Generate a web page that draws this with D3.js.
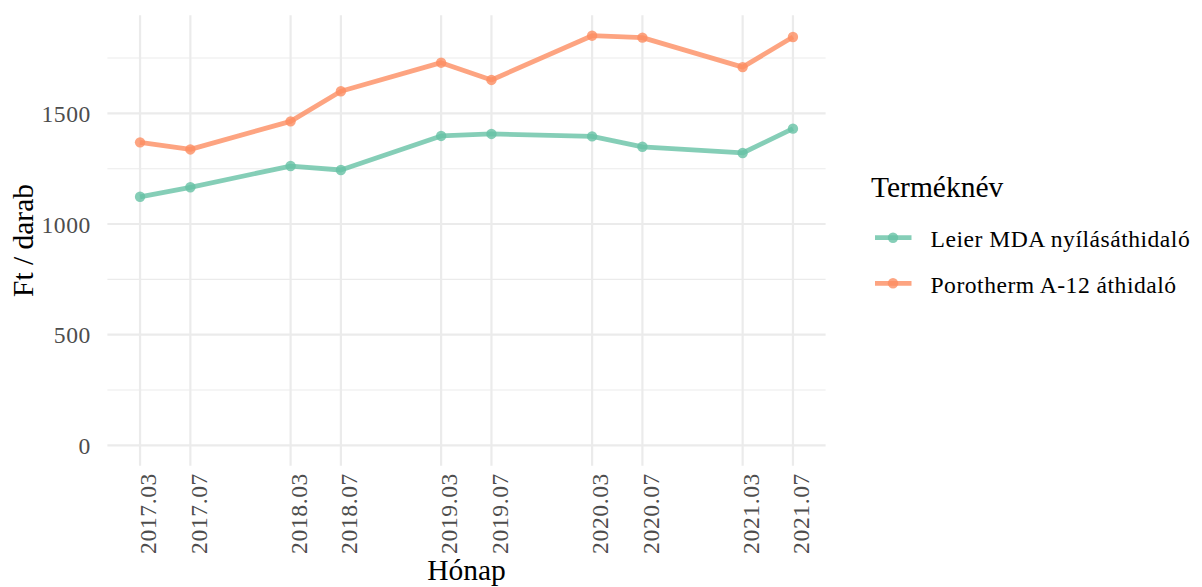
<!DOCTYPE html>
<html>
<head>
<meta charset="utf-8">
<script src="https://cdn.jsdelivr.net/npm/d3@7"></script>
<style>
  body { margin: 0; background: #fff; }
  svg text { font-family: "Liberation Serif", "Times New Roman", serif !important; }
</style>
</head>
<body>
<div id="plotSect"></div>
<script>
// data
let months = ["2017.03", "2017.07", "2018.03", "2018.07", "2019.03", "2019.07", "2020.03", "2020.07", "2021.03", "2021.07"];
let seriesNames = ["Leier MDA nyílásáthidaló", "Porotherm A-12 áthidaló"];
let leierVals = [1123, 1166, 1262, 1244, 1398, 1407, 1396, 1349, 1321, 1431];
let porothermVals = [1369, 1337, 1464, 1600, 1729, 1651, 1851, 1842, 1709, 1845];
let yTicks = [0, 500, 1000, 1500];
let yMinor = [250, 750, 1250, 1750];
let colors = ["#66c2a5", "#fc8d62"];

let SVGwidth = 1202,
    SVGheight = 587,
    panel = {left: 107.4, right: 825.6, top: 15.2, bottom: 465.8};

let serif = "'Liberation Serif', 'Times New Roman', serif";

let parseMonth = d3.timeParse("%Y.%m");
let dates = months.map(parseMonth);

let series = [leierVals, porothermVals].map(function(vals, i) {
    return {
        name: seriesNames[i],
        color: colors[i],
        points: vals.map(function(v, j) { return {date: dates[j], value: v}; })
    };
});

// ggplot-style 5% expansion
let tExt = d3.extent(dates);
let tPad = (tExt[1] - tExt[0]) * 0.05;
let xScale = d3.scaleTime()
    .domain([new Date(+tExt[0] - tPad), new Date(+tExt[1] + tPad)])
    .range([panel.left, panel.right]);

let yMax = d3.max(leierVals.concat(porothermVals));
let yPad = yMax * 0.05;
let yScale = d3.scaleLinear()
    .domain([-yPad, yMax + yPad])
    .range([panel.bottom, panel.top]);

let svg = d3.select("#plotSect").append("svg")
    .attr("width", SVGwidth)
    .attr("height", SVGheight)
    .style("display", "block");

// grid
svg.append("g").selectAll("line")
    .data(yMinor)
    .enter().append("line")
    .attr("x1", panel.left).attr("x2", panel.right)
    .attr("y1", d => yScale(d)).attr("y2", d => yScale(d))
    .attr("stroke", "#ebebeb")
    .attr("stroke-width", 1.1);

svg.append("g").selectAll("line")
    .data(yTicks)
    .enter().append("line")
    .attr("x1", panel.left).attr("x2", panel.right)
    .attr("y1", d => yScale(d)).attr("y2", d => yScale(d))
    .attr("stroke", "#ebebeb")
    .attr("stroke-width", 2.2);

svg.append("g").selectAll("line")
    .data(dates)
    .enter().append("line")
    .attr("x1", d => xScale(d)).attr("x2", d => xScale(d))
    .attr("y1", panel.top).attr("y2", panel.bottom)
    .attr("stroke", "#ebebeb")
    .attr("stroke-width", 2.2);

// axes via d3 axis generators, then restyled
let yAxis = d3.axisLeft(yScale)
    .tickValues(yTicks)
    .tickFormat(d3.format("d"))
    .tickSize(0).tickPadding(0);
let yG = svg.append("g")
    .attr("transform", "translate(" + 91 + ",0)")
    .attr("font-family", serif)
    .call(yAxis);
yG.select(".domain").remove();
yG.selectAll("text")
    .attr("x", 0)
    .attr("dy", "0.34em")
    .style("font-family", serif)
    .style("font-size", "23.6px")
    .style("letter-spacing", "0.6px")
    .attr("fill", "#4d4d4d");

let xAxis = d3.axisBottom(xScale)
    .tickValues(dates)
    .tickFormat(d3.timeFormat("%Y.%m"))
    .tickSize(0);
let xG = svg.append("g")
    .attr("transform", "translate(0," + 473 + ")")
    .attr("font-family", serif)
    .call(xAxis);
xG.select(".domain").remove();
xG.selectAll("text")
    .attr("transform", "rotate(-90)")
    .attr("x", 0)
    .attr("y", 15.7)
    .attr("dy", 0)
    .style("text-anchor", "end")
    .style("font-family", serif)
    .style("font-size", "23.6px")
    .style("letter-spacing", "0.6px")
    .attr("fill", "#4d4d4d");

// axis titles
svg.append("text")
    .attr("x", (panel.left + panel.right) / 2)
    .attr("y", 580)
    .attr("text-anchor", "middle")
    .style("font-family", serif)
    .style("font-size", "29.5px")
    .attr("fill", "#000")
    .text("Hónap");

svg.append("text")
    .attr("transform", "translate(" + 33 + "," + ((panel.top + panel.bottom) / 2) + ") rotate(-90)")
    .attr("text-anchor", "middle")
    .style("font-family", serif)
    .style("font-size", "29.5px")
    .attr("fill", "#000")
    .text("Ft / darab");

// lines and points
let line = d3.line()
    .x(d => xScale(d.date))
    .y(d => yScale(d.value));

let sG = svg.selectAll(".series")
    .data(series)
    .enter().append("g")
    .attr("class", "series");

sG.append("path")
    .attr("d", d => line(d.points))
    .attr("fill", "none")
    .attr("stroke", d => d.color)
    .attr("stroke-width", 4.8)
    .attr("stroke-opacity", 0.8)
    .attr("stroke-linejoin", "round");

sG.selectAll("circle")
    .data(d => d.points.map(p => ({date: p.date, value: p.value, color: d.color})))
    .enter().append("circle")
    .attr("cx", d => xScale(d.date))
    .attr("cy", d => yScale(d.value))
    .attr("r", 5.2)
    .attr("fill", d => d.color)
    .attr("fill-opacity", 0.8);

// legend
svg.append("text")
    .attr("x", 871)
    .attr("y", 196.5)
    .style("font-family", serif)
    .style("font-size", "29.5px")
    .attr("fill", "#000")
    .text("Terméknév");

let legend = svg.selectAll(".legend")
    .data(series)
    .enter().append("g")
    .attr("class", "legend")
    .attr("transform", (d, i) => "translate(0," + (237.7 + i * 45.6) + ")");

legend.append("line")
    .attr("x1", 875).attr("x2", 911.5)
    .attr("y1", 0).attr("y2", 0)
    .attr("stroke", d => d.color)
    .attr("stroke-width", 4.8)
    .attr("stroke-opacity", 0.8);

legend.append("circle")
    .attr("cx", 893)
    .attr("cy", 0)
    .attr("r", 5.2)
    .attr("fill", d => d.color)
    .attr("fill-opacity", 0.8);

legend.append("text")
    .attr("x", 930.5)
    .attr("y", 9.6)
    .style("font-family", serif)
    .style("font-size", "23.6px")
    .style("letter-spacing", "0.5px")
    .attr("fill", "#000")
    .text(d => d.name);
</script>
</body>
</html>
